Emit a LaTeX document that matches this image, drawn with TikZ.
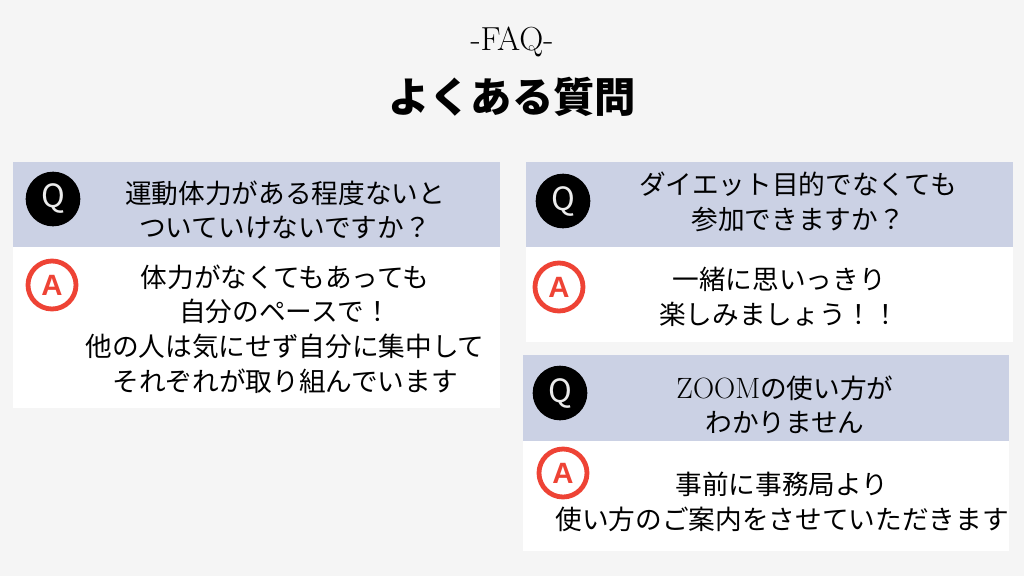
\documentclass[tikz,border=0pt]{standalone}
\usepackage{fontspec}
\newfontfamily\jpsans{Noto Sans CJK JP}
\newfontfamily\latinsans{Liberation Sans}

\definecolor{bggray}{HTML}{F5F5F5}
\definecolor{qhead}{HTML}{CBD1E4}
\definecolor{ared}{HTML}{EE4335}

\begin{document}
\begin{tikzpicture}[x=0.75pt, y=-0.75pt,
        qtext/.style={align=center, inner sep=0, font=\jpsans\fontsize{20}{26}\selectfont},
        qmark/.style={circle, fill=black, minimum size=41pt, inner sep=0, text=white!85!gray,
            font=\jpsans\fontsize{24}{24}\selectfont},
        amark/.style={circle, draw=ared, line width=3.6pt, minimum size=36pt, inner sep=0, text=ared,
            font=\latinsans\bfseries\fontsize{22}{22}\selectfont}]
        \fill[bggray] (0, 0) rectangle (1024, 576);
        \useasboundingbox (0, 0) rectangle (1024, 576);
        % title
        \node (faq) at (512, 42) {\fontsize{25}{28}\selectfont -FAQ-};
        \node (title) at (512, 97) {\jpsans\bfseries\fontsize{31}{34}\selectfont よくある質問};
        % left card
        \fill[qhead] (13, 162) rectangle (500, 247);
        \fill[white] (13, 247) rectangle (500, 408);
        \node[qmark] (q1) at (53, 199) {Q};
        \node[amark] (a1) at (52, 285) {A};
        \node[qtext] (q1text) at (285, 210) {運動体力がある程度ないと\\ついていけないですか？};
        \node[qtext] (a1text) at (285, 329) {体力がなくてもあっても\\自分のペースで！\\他の人は気にせず自分に集中して\\それぞれが取り組んでいます};
        % right top card
        \fill[qhead] (526, 162) rectangle (1013, 247);
        \fill[white] (526, 247) rectangle (1013, 342);
        \node[qmark] (q2) at (563, 201) {Q};
        \node[amark] (a2) at (559, 287) {A};
        \node[qtext] (q2text) at (798, 202) {ダイエット目的でなくても\\参加できますか？};
        \node[qtext] (a2text) at (779, 297) {一緒に思いっきり\\楽しみましょう！！};
        % right bottom card
        \fill[qhead] (523, 355) rectangle (1009, 441);
        \fill[white] (523, 441) rectangle (1009, 551);
        \node[qmark] (q3) at (560, 393) {Q};
        \node[amark] (a3) at (563, 473) {A};
        \node[qtext] (q3text) at (785, 405) {{\rmfamily\fontsize{22}{26}\selectfont ZOOM}の使い方が\\わかりません};
        \node[qtext] (a3text) at (782, 502) {事前に事務局より\\使い方のご案内をさせていただきます};
    \end{tikzpicture}
\end{document}
